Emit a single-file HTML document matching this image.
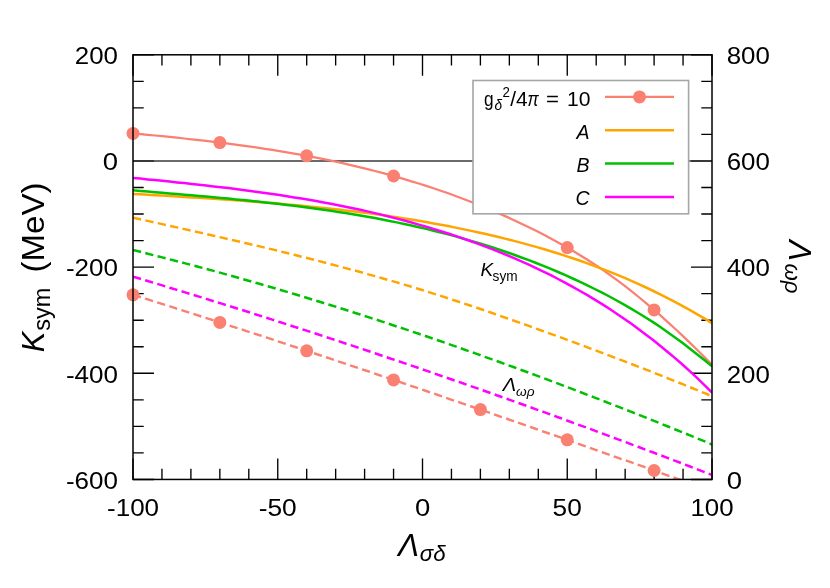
<!DOCTYPE html>
<html><head><meta charset="utf-8"><title>Ksym</title>
<style>html,body{margin:0;padding:0;background:#fff}svg{display:block;will-change:transform;opacity:.9999}text{font-family:"Liberation Sans",sans-serif;fill:#000}.i{font-style:italic}</style></head><body>
<svg width="830" height="588" viewBox="0 0 830 588">
<rect width="830" height="588" fill="#fff"/>
<defs><clipPath id="c"><rect x="133" y="54.8" width="579" height="424.65"/></clipPath></defs>
<path d="M133.00,479.45v-21 M133.00,54.80v21 M161.95,479.45v-10.7 M161.95,54.80v10.7 M190.90,479.45v-10.7 M190.90,54.80v10.7 M219.85,479.45v-10.7 M219.85,54.80v10.7 M248.80,479.45v-10.7 M248.80,54.80v10.7 M277.75,479.45v-21 M277.75,54.80v21 M306.70,479.45v-10.7 M306.70,54.80v10.7 M335.65,479.45v-10.7 M335.65,54.80v10.7 M364.60,479.45v-10.7 M364.60,54.80v10.7 M393.55,479.45v-10.7 M393.55,54.80v10.7 M422.50,479.45v-21 M422.50,54.80v21 M451.45,479.45v-10.7 M451.45,54.80v10.7 M480.40,479.45v-10.7 M480.40,54.80v10.7 M509.35,479.45v-10.7 M509.35,54.80v10.7 M538.30,479.45v-10.7 M538.30,54.80v10.7 M567.25,479.45v-21 M567.25,54.80v21 M596.20,479.45v-10.7 M596.20,54.80v10.7 M625.15,479.45v-10.7 M625.15,54.80v10.7 M654.10,479.45v-10.7 M654.10,54.80v10.7 M683.05,479.45v-10.7 M683.05,54.80v10.7 M712.00,479.45v-21 M712.00,54.80v21 M133.00,54.80h21 M712.00,54.80h-21 M133.00,81.34h10.7 M712.00,81.34h-10.7 M133.00,107.88h10.7 M712.00,107.88h-10.7 M133.00,134.42h10.7 M712.00,134.42h-10.7 M133.00,160.96h21 M712.00,160.96h-21 M133.00,187.50h10.7 M712.00,187.50h-10.7 M133.00,214.04h10.7 M712.00,214.04h-10.7 M133.00,240.58h10.7 M712.00,240.58h-10.7 M133.00,267.12h21 M712.00,267.12h-21 M133.00,293.67h10.7 M712.00,293.67h-10.7 M133.00,320.21h10.7 M712.00,320.21h-10.7 M133.00,346.75h10.7 M712.00,346.75h-10.7 M133.00,373.29h21 M712.00,373.29h-21 M133.00,399.83h10.7 M712.00,399.83h-10.7 M133.00,426.37h10.7 M712.00,426.37h-10.7 M133.00,452.91h10.7 M712.00,452.91h-10.7 M133.00,479.45h21 M712.00,479.45h-21" stroke="#000" stroke-width="1.35" fill="none"/>
<line x1="133" y1="160.96" x2="712" y2="160.96" stroke="#383838" stroke-width="1.5"/>
<g clip-path="url(#c)" fill="none" stroke-linejoin="round">
<path d="M133.0,133.4 L140.3,134.1 L147.7,134.8 L155.0,135.5 L162.3,136.2 L169.6,136.9 L177.0,137.7 L184.3,138.5 L191.6,139.3 L199.0,140.1 L206.3,140.9 L213.6,141.8 L220.9,142.7 L228.3,143.6 L235.6,144.6 L242.9,145.6 L250.3,146.6 L257.6,147.7 L264.9,148.8 L272.3,149.9 L279.6,151.1 L286.9,152.3 L294.2,153.6 L301.6,154.9 L308.9,156.3 L316.2,157.7 L323.6,159.2 L330.9,160.7 L338.2,162.2 L345.5,163.9 L352.9,165.6 L360.2,167.3 L367.5,169.1 L374.9,171.0 L382.2,172.9 L389.5,174.9 L396.8,176.9 L404.2,179.1 L411.5,181.3 L418.8,183.5 L426.2,185.9 L433.5,188.3 L440.8,190.8 L448.2,193.3 L455.5,196.0 L462.8,198.7 L470.1,201.5 L477.5,204.4 L484.8,207.4 L492.1,210.5 L499.5,213.6 L506.8,216.9 L514.1,220.2 L521.4,223.7 L528.8,227.2 L536.1,230.8 L543.4,234.5 L550.8,238.4 L558.1,242.4 L565.4,246.5 L572.7,250.8 L580.1,255.2 L587.4,259.8 L594.7,264.5 L602.1,269.4 L609.4,274.6 L616.7,279.9 L624.1,285.4 L631.4,291.1 L638.7,297.0 L646.0,303.1 L653.4,309.3 L660.7,315.7 L668.0,322.3 L675.4,329.0 L682.7,335.9 L690.0,342.9 L697.3,350.0 L704.7,357.2 L712.0,364.6" stroke="#fa8072" stroke-width="2.25"/>
<path d="M133.0,193.9 L140.3,194.3 L147.7,194.8 L155.0,195.2 L162.3,195.6 L169.6,196.1 L177.0,196.5 L184.3,196.9 L191.6,197.4 L199.0,197.8 L206.3,198.3 L213.6,198.8 L220.9,199.3 L228.3,199.8 L235.6,200.3 L242.9,200.8 L250.3,201.4 L257.6,201.9 L264.9,202.5 L272.3,203.1 L279.6,203.7 L286.9,204.4 L294.2,205.0 L301.6,205.7 L308.9,206.4 L316.2,207.2 L323.6,207.9 L330.9,208.7 L338.2,209.5 L345.5,210.4 L352.9,211.3 L360.2,212.2 L367.5,213.1 L374.9,214.1 L382.2,215.1 L389.5,216.2 L396.8,217.3 L404.2,218.4 L411.5,219.6 L418.8,220.8 L426.2,222.1 L433.5,223.4 L440.8,224.7 L448.2,226.1 L455.5,227.6 L462.8,229.1 L470.1,230.6 L477.5,232.2 L484.8,233.8 L492.1,235.5 L499.5,237.3 L506.8,239.1 L514.1,240.9 L521.4,242.9 L528.8,244.9 L536.1,246.9 L543.4,249.0 L550.8,251.2 L558.1,253.5 L565.4,255.9 L572.7,258.3 L580.1,260.8 L587.4,263.4 L594.7,266.1 L602.1,268.8 L609.4,271.7 L616.7,274.7 L624.1,277.7 L631.4,280.9 L638.7,284.2 L646.0,287.5 L653.4,291.0 L660.7,294.6 L668.0,298.3 L675.4,302.1 L682.7,306.1 L690.0,310.1 L697.3,314.3 L704.7,318.6 L712.0,323.1" stroke="#ffa500" stroke-width="2.5"/>
<path d="M133.0,190.3 L140.3,190.9 L147.7,191.6 L155.0,192.2 L162.3,192.8 L169.6,193.4 L177.0,194.1 L184.3,194.7 L191.6,195.3 L199.0,196.0 L206.3,196.6 L213.6,197.3 L220.9,198.0 L228.3,198.6 L235.6,199.4 L242.9,200.1 L250.3,200.8 L257.6,201.6 L264.9,202.4 L272.3,203.2 L279.6,204.0 L286.9,204.9 L294.2,205.8 L301.6,206.7 L308.9,207.7 L316.2,208.7 L323.6,209.7 L330.9,210.8 L338.2,211.9 L345.5,213.0 L352.9,214.2 L360.2,215.5 L367.5,216.8 L374.9,218.1 L382.2,219.5 L389.5,220.9 L396.8,222.4 L404.2,223.9 L411.5,225.5 L418.8,227.2 L426.2,228.9 L433.5,230.7 L440.8,232.5 L448.2,234.4 L455.5,236.4 L462.8,238.5 L470.1,240.6 L477.5,242.8 L484.8,245.0 L492.1,247.3 L499.5,249.8 L506.8,252.2 L514.1,254.8 L521.4,257.5 L528.8,260.2 L536.1,263.0 L543.4,265.9 L550.8,268.9 L558.1,272.0 L565.4,275.2 L572.7,278.5 L580.1,281.9 L587.4,285.4 L594.7,289.0 L602.1,292.7 L609.4,296.5 L616.7,300.5 L624.1,304.6 L631.4,308.8 L638.7,313.2 L646.0,317.7 L653.4,322.4 L660.7,327.3 L668.0,332.4 L675.4,337.7 L682.7,343.1 L690.0,348.7 L697.3,354.4 L704.7,360.3 L712.0,366.3" stroke="#00c000" stroke-width="2.5"/>
<path d="M133.0,177.9 L140.3,178.6 L147.7,179.4 L155.0,180.1 L162.3,180.8 L169.6,181.6 L177.0,182.4 L184.3,183.1 L191.6,183.9 L199.0,184.7 L206.3,185.5 L213.6,186.4 L220.9,187.2 L228.3,188.1 L235.6,189.0 L242.9,190.0 L250.3,190.9 L257.6,191.9 L264.9,192.9 L272.3,194.0 L279.6,195.1 L286.9,196.2 L294.2,197.4 L301.6,198.6 L308.9,199.8 L316.2,201.1 L323.6,202.4 L330.9,203.8 L338.2,205.2 L345.5,206.7 L352.9,208.2 L360.2,209.8 L367.5,211.4 L374.9,213.1 L382.2,214.9 L389.5,216.7 L396.8,218.6 L404.2,220.5 L411.5,222.5 L418.8,224.6 L426.2,226.7 L433.5,228.9 L440.8,231.2 L448.2,233.5 L455.5,235.9 L462.8,238.4 L470.1,241.0 L477.5,243.7 L484.8,246.4 L492.1,249.2 L499.5,252.1 L506.8,255.1 L514.1,258.2 L521.4,261.4 L528.8,264.7 L536.1,268.1 L543.4,271.6 L550.8,275.2 L558.1,279.0 L565.4,282.8 L572.7,286.8 L580.1,291.0 L587.4,295.2 L594.7,299.6 L602.1,304.1 L609.4,308.8 L616.7,313.7 L624.1,318.7 L631.4,323.8 L638.7,329.2 L646.0,334.7 L653.4,340.3 L660.7,346.2 L668.0,352.2 L675.4,358.4 L682.7,364.8 L690.0,371.4 L697.3,378.2 L704.7,385.3 L712.0,392.5" stroke="#ff00ff" stroke-width="2.5"/>
<path d="M133.0,294.8 L140.1,297.0 L147.1,299.2 L154.2,301.5 L161.2,303.7 L168.3,305.9 L175.3,308.2 L182.4,310.4 L189.4,312.7 L196.5,314.9 L203.5,317.2 L210.6,319.4 L217.6,321.7 L224.7,324.0 L231.7,326.3 L238.8,328.5 L245.8,330.8 L252.9,333.1 L259.9,335.4 L267.0,337.7 L274.0,340.0 L281.1,342.4 L288.1,344.7 L295.2,347.0 L302.2,349.3 L309.3,351.7 L316.3,354.0 L323.4,356.4 L330.4,358.7 L337.5,361.1 L344.5,363.4 L351.6,365.8 L358.6,368.1 L365.7,370.5 L372.7,372.9 L379.8,375.3 L386.8,377.6 L393.9,380.0 L400.9,382.4 L408.0,384.8 L415.0,387.2 L422.1,389.6 L429.1,392.0 L436.2,394.4 L443.2,396.8 L450.3,399.3 L457.3,401.7 L464.4,404.1 L471.4,406.5 L478.5,409.0 L485.5,411.4 L492.6,413.8 L499.6,416.3 L506.7,418.7 L513.7,421.2 L520.8,423.6 L527.8,426.1 L534.9,428.5 L541.9,431.0 L549.0,433.5 L556.0,435.9 L563.1,438.4 L570.1,440.9 L577.2,443.3 L584.2,445.8 L591.3,448.3 L598.3,450.8 L605.4,453.3 L612.4,455.8 L619.5,458.3 L626.5,460.7 L633.6,463.2 L640.6,465.7 L647.7,468.2 L654.7,470.8 L661.8,473.3 L668.8,475.8 L675.9,478.3 L682.9,480.8 L690.0,483.3" stroke="#fa8072" stroke-width="2.4" stroke-dasharray="8.3 4.38"/>
<path d="M133.0,217.6 L140.3,219.3 L147.7,220.9 L155.0,222.5 L162.3,224.1 L169.6,225.8 L177.0,227.4 L184.3,229.1 L191.6,230.7 L199.0,232.4 L206.3,234.0 L213.6,235.7 L220.9,237.4 L228.3,239.1 L235.6,240.8 L242.9,242.5 L250.3,244.2 L257.6,245.9 L264.9,247.7 L272.3,249.4 L279.6,251.2 L286.9,253.0 L294.2,254.8 L301.6,256.7 L308.9,258.5 L316.2,260.4 L323.6,262.3 L330.9,264.2 L338.2,266.1 L345.5,268.1 L352.9,270.0 L360.2,272.0 L367.5,274.1 L374.9,276.1 L382.2,278.2 L389.5,280.3 L396.8,282.4 L404.2,284.6 L411.5,286.8 L418.8,289.0 L426.2,291.3 L433.5,293.6 L440.8,295.9 L448.2,298.3 L455.5,300.7 L462.8,303.1 L470.1,305.5 L477.5,308.0 L484.8,310.5 L492.1,313.0 L499.5,315.6 L506.8,318.2 L514.1,320.7 L521.4,323.3 L528.8,325.9 L536.1,328.6 L543.4,331.2 L550.8,333.9 L558.1,336.5 L565.4,339.2 L572.7,341.9 L580.1,344.6 L587.4,347.3 L594.7,350.1 L602.1,352.8 L609.4,355.6 L616.7,358.4 L624.1,361.2 L631.4,364.0 L638.7,366.8 L646.0,369.6 L653.4,372.5 L660.7,375.4 L668.0,378.3 L675.4,381.3 L682.7,384.2 L690.0,387.2 L697.3,390.2 L704.7,393.2 L712.0,396.3" stroke="#ffa500" stroke-width="2.5" stroke-dasharray="8.3 4.38"/>
<path d="M133.0,250.0 L140.3,251.8 L147.7,253.7 L155.0,255.5 L162.3,257.4 L169.6,259.3 L177.0,261.2 L184.3,263.1 L191.6,265.0 L199.0,267.0 L206.3,268.9 L213.6,270.9 L220.9,272.9 L228.3,275.0 L235.6,277.0 L242.9,279.1 L250.3,281.2 L257.6,283.3 L264.9,285.4 L272.3,287.5 L279.6,289.7 L286.9,291.9 L294.2,294.0 L301.6,296.2 L308.9,298.5 L316.2,300.7 L323.6,303.0 L330.9,305.2 L338.2,307.5 L345.5,309.8 L352.9,312.2 L360.2,314.5 L367.5,316.9 L374.9,319.2 L382.2,321.6 L389.5,324.0 L396.8,326.5 L404.2,328.9 L411.5,331.4 L418.8,333.8 L426.2,336.3 L433.5,338.8 L440.8,341.3 L448.2,343.9 L455.5,346.4 L462.8,349.0 L470.1,351.6 L477.5,354.1 L484.8,356.8 L492.1,359.4 L499.5,362.0 L506.8,364.7 L514.1,367.3 L521.4,370.0 L528.8,372.7 L536.1,375.4 L543.4,378.1 L550.8,380.9 L558.1,383.6 L565.4,386.4 L572.7,389.2 L580.1,392.0 L587.4,394.8 L594.7,397.6 L602.1,400.4 L609.4,403.3 L616.7,406.1 L624.1,409.0 L631.4,411.9 L638.7,414.8 L646.0,417.7 L653.4,420.6 L660.7,423.6 L668.0,426.5 L675.4,429.5 L682.7,432.4 L690.0,435.4 L697.3,438.4 L704.7,441.4 L712.0,444.5" stroke="#00c000" stroke-width="2.5" stroke-dasharray="8.3 4.38"/>
<path d="M133.0,276.6 L140.3,278.8 L147.7,281.0 L155.0,283.2 L162.3,285.4 L169.6,287.7 L177.0,289.9 L184.3,292.1 L191.6,294.4 L199.0,296.6 L206.3,298.9 L213.6,301.2 L220.9,303.4 L228.3,305.7 L235.6,308.0 L242.9,310.3 L250.3,312.6 L257.6,315.0 L264.9,317.3 L272.3,319.6 L279.6,322.0 L286.9,324.3 L294.2,326.7 L301.6,329.1 L308.9,331.4 L316.2,333.8 L323.6,336.2 L330.9,338.6 L338.2,341.0 L345.5,343.5 L352.9,345.9 L360.2,348.3 L367.5,350.8 L374.9,353.2 L382.2,355.7 L389.5,358.2 L396.8,360.6 L404.2,363.1 L411.5,365.6 L418.8,368.1 L426.2,370.6 L433.5,373.2 L440.8,375.7 L448.2,378.2 L455.5,380.8 L462.8,383.3 L470.1,385.9 L477.5,388.4 L484.8,391.0 L492.1,393.6 L499.5,396.2 L506.8,398.8 L514.1,401.4 L521.4,404.0 L528.8,406.6 L536.1,409.3 L543.4,411.9 L550.8,414.6 L558.1,417.2 L565.4,419.9 L572.7,422.6 L580.1,425.3 L587.4,427.9 L594.7,430.7 L602.1,433.4 L609.4,436.1 L616.7,438.8 L624.1,441.5 L631.4,444.3 L638.7,447.0 L646.0,449.8 L653.4,452.5 L660.7,455.3 L668.0,458.1 L675.4,460.9 L682.7,463.7 L690.0,466.5 L697.3,469.3 L704.7,472.1 L712.0,475.0" stroke="#ff00ff" stroke-width="2.5" stroke-dasharray="8.3 4.38"/>
</g>
<g fill="#fa8072">
<circle cx="133.00" cy="133.43" r="6.5"/>
<circle cx="133.00" cy="294.82" r="6.5"/>
<circle cx="219.85" cy="142.56" r="6.5"/>
<circle cx="219.85" cy="322.43" r="6.5"/>
<circle cx="306.70" cy="155.87" r="6.5"/>
<circle cx="306.70" cy="350.82" r="6.5"/>
<circle cx="393.55" cy="176.00" r="6.5"/>
<circle cx="393.55" cy="379.92" r="6.5"/>
<circle cx="480.40" cy="205.61" r="6.5"/>
<circle cx="480.40" cy="409.62" r="6.5"/>
<circle cx="567.25" cy="247.56" r="6.5"/>
<circle cx="567.25" cy="439.85" r="6.5"/>
<circle cx="654.10" cy="309.94" r="6.5"/>
<circle cx="654.10" cy="470.52" r="6.5"/>
</g>
<rect x="133" y="54.8" width="579" height="424.65" fill="none" stroke="#000" stroke-width="1.5"/>
<rect x="473" y="80.5" width="215.6" height="133.3" fill="#fff" stroke="#a6a6a6" stroke-width="1.6"/>
<line x1="605" y1="96.9" x2="674" y2="96.9" stroke="#fa8072" stroke-width="2.25"/>
<line x1="605" y1="130.2" x2="674" y2="130.2" stroke="#ffa500" stroke-width="2.5"/>
<line x1="605" y1="163.6" x2="674" y2="163.6" stroke="#00c000" stroke-width="2.5"/>
<line x1="605" y1="197" x2="674" y2="197" stroke="#ff00ff" stroke-width="2.5"/>
<circle cx="639.5" cy="96.9" r="6.5" fill="#fa8072"/>
<g font-size="19.5">
<text x="484" y="105.9" textLength="9.6" lengthAdjust="spacingAndGlyphs">g</text>
<text class="i" x="494.6" y="110.4" font-size="14" textLength="7.6" lengthAdjust="spacingAndGlyphs">δ</text>
<text x="502.4" y="97.3" font-size="14" textLength="7.4" lengthAdjust="spacingAndGlyphs">2</text>
<text x="510.3" y="105.9" textLength="17.4" lengthAdjust="spacingAndGlyphs">/4</text>
<text class="i" x="527.6" y="105.9" textLength="11.2" lengthAdjust="spacingAndGlyphs">π</text>
<text x="546" y="105.9" textLength="13" lengthAdjust="spacingAndGlyphs">=</text>
<text x="567" y="105.9" textLength="23.5" lengthAdjust="spacingAndGlyphs">10</text>
<text class="i" x="589.5" y="138.6" text-anchor="end">A</text>
<text class="i" x="589.5" y="172" text-anchor="end">B</text>
<text class="i" x="589.5" y="205.4" text-anchor="end">C</text>
</g>
<text class="i" x="480.5" y="275.6" font-size="19">K</text>
<text x="492.6" y="280.7" font-size="13.8" textLength="25" lengthAdjust="spacingAndGlyphs">sym</text>
<text class="i" x="502.8" y="390.5" font-size="19" textLength="13.4" lengthAdjust="spacingAndGlyphs">Λ</text>
<text class="i" x="516" y="395.6" font-size="13.4" textLength="18.5" lengthAdjust="spacingAndGlyphs">ωρ</text>
<text x="74.8" y="63.5" font-size="23.8" textLength="43.2" lengthAdjust="spacingAndGlyphs">200</text>
<text x="102.7" y="170.0" font-size="23.8" textLength="15.3" lengthAdjust="spacingAndGlyphs">0</text>
<text x="65.9" y="276.4" font-size="23.8" textLength="52.1" lengthAdjust="spacingAndGlyphs">-200</text>
<text x="65.9" y="382.8" font-size="23.8" textLength="52.1" lengthAdjust="spacingAndGlyphs">-400</text>
<text x="65.9" y="489.2" font-size="23.8" textLength="52.1" lengthAdjust="spacingAndGlyphs">-600</text>
<text x="726.7" y="63.7" font-size="23.8" textLength="43.2" lengthAdjust="spacingAndGlyphs">800</text>
<text x="726.7" y="170.1" font-size="23.8" textLength="43.2" lengthAdjust="spacingAndGlyphs">600</text>
<text x="726.7" y="276.4" font-size="23.8" textLength="43.2" lengthAdjust="spacingAndGlyphs">400</text>
<text x="726.7" y="382.8" font-size="23.8" textLength="43.2" lengthAdjust="spacingAndGlyphs">200</text>
<text x="726.7" y="489.1" font-size="23.8" textLength="15.3" lengthAdjust="spacingAndGlyphs">0</text>
<text x="107.0" y="515.6" font-size="23.8" textLength="52.1" lengthAdjust="spacingAndGlyphs">-100</text>
<text x="258.7" y="515.6" font-size="23.8" textLength="38.1" lengthAdjust="spacingAndGlyphs">-50</text>
<text x="414.9" y="515.6" font-size="23.8" textLength="15.3" lengthAdjust="spacingAndGlyphs">0</text>
<text x="552.6" y="515.6" font-size="23.8" textLength="29.2" lengthAdjust="spacingAndGlyphs">50</text>
<text x="690.4" y="515.6" font-size="23.8" textLength="43.2" lengthAdjust="spacingAndGlyphs">100</text>
<g transform="translate(44,352.2) rotate(-90)">
<text class="i" x="0" y="0" font-size="30.8">K</text>
<text x="21.5" y="5.6" font-size="23" textLength="43" lengthAdjust="spacingAndGlyphs">sym</text>
<text x="79.8" y="0" font-size="31" textLength="89.9" lengthAdjust="spacingAndGlyphs">(MeV)</text>
</g>
<g transform="translate(789.2,240.1) rotate(90)">
<text class="i" x="0" y="0" font-size="31.8" textLength="21" lengthAdjust="spacingAndGlyphs">Λ</text>
<text class="i" x="23.3" y="4.6" font-size="22.5" textLength="30" lengthAdjust="spacingAndGlyphs">ωρ</text>
</g>
<text class="i" x="398" y="555.5" font-size="31.4" textLength="21" lengthAdjust="spacingAndGlyphs">Λ</text>
<text class="i" x="419.8" y="561" font-size="22.5" textLength="25.8" lengthAdjust="spacingAndGlyphs">σδ</text>
</svg></body></html>
